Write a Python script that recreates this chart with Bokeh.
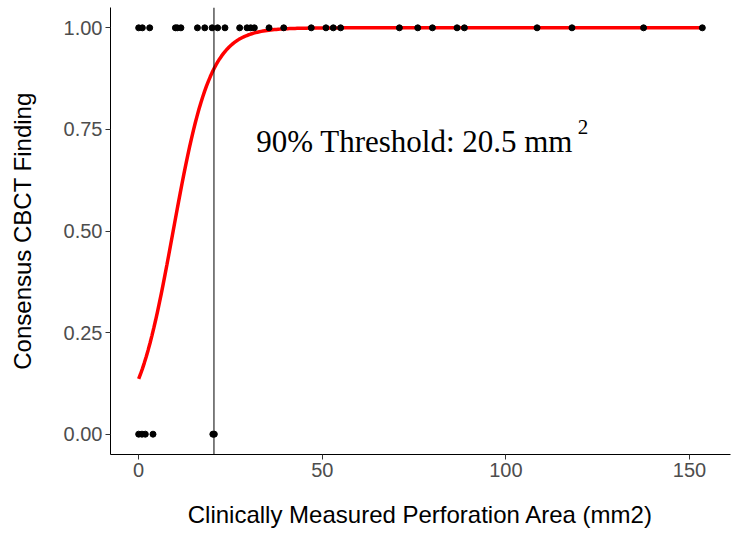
import numpy as np
from bokeh.plotting import figure
from bokeh.models import Range1d, FixedTicker, Span, Label
from bokeh.embed import file_html
from bokeh.resources import INLINE

# ---- data ----
area_pos = [0, 1, 3, 10, 10.5, 11.5, 16, 18, 20, 21.5, 23.5, 27.5, 29.5, 30.5, 31.5,
            35.5, 39.5, 47, 51, 53, 55, 71, 76, 80, 86.7, 88.7, 108.5, 118, 137.5, 153.5]
finding_pos = [1] * len(area_pos)
area_neg = [0, 0.9, 1.8, 3.9, 20.2, 20.6]
finding_neg = [0] * len(area_neg)

# fitted logistic regression coefficients (estimated from the red curve)
b0 = -1.85
b1 = 0.197
threshold = 20.5

x_ticks = [0, 50, 100, 150]
y_ticks = [0, 0.25, 0.5, 0.75, 1.0]

all_x = area_pos + area_neg
xmin, xmax = min(all_x), max(all_x)
pad = 0.05 * (xmax - xmin)

p = figure(width=739, height=533, output_backend="svg", toolbar_location=None,
           x_range=Range1d(xmin - pad, xmax + pad), y_range=Range1d(-0.05, 1.05),
           min_border_left=110, min_border_right=9, min_border_top=7, min_border_bottom=79)
p.outline_line_color = None
p.xgrid.grid_line_color = None
p.ygrid.grid_line_color = None
p.background_fill_color = "white"

# fitted curve
xs = np.linspace(xmin, xmax, 300)
ys = 1.0 / (1.0 + np.exp(-(b0 + b1 * xs)))
p.line(xs, ys, line_color="#FF0000", line_width=3.5)

# threshold line
p.add_layout(Span(location=threshold, dimension="height", line_color="black", line_width=1))

# points
p.scatter(area_pos, finding_pos, size=6, color="black")
p.scatter(area_neg, finding_neg, size=6, color="black")

# annotation
p.add_layout(Label(x=32.0, y=0.72, text="90% Threshold: 20.5 mm", text_font="Liberation Serif",
                   text_font_size="31px", text_color="black", text_baseline="alphabetic",
                   text_align="left"))
p.add_layout(Label(x=119.6, y=0.757, text="2", text_font="Liberation Serif",
                   text_font_size="21px", text_color="black", text_baseline="alphabetic",
                   text_align="left"))

for ax in (p.xaxis[0], p.yaxis[0]):
    ax.axis_line_color = "black"
    ax.axis_line_width = 1
    ax.major_tick_line_color = "#333333"
    ax.major_tick_out = 5
    ax.major_tick_in = 0
    ax.minor_tick_line_color = None
    ax.major_label_text_font = "Liberation Sans"
    ax.major_label_text_font_size = "20px"
    ax.major_label_text_color = "#4D4D4D"
    ax.major_label_standoff = 3
    ax.axis_label_text_font = "Liberation Sans"
    ax.axis_label_text_font_size = "24px"
    ax.axis_label_text_font_style = "normal"
    ax.axis_label_text_color = "black"

p.xaxis.ticker = FixedTicker(ticks=x_ticks)
p.yaxis.ticker = FixedTicker(ticks=y_ticks)
p.yaxis.major_label_overrides = {t: f"{t:.2f}" for t in y_ticks}
p.xaxis.axis_label = "Clinically Measured Perforation Area (mm2)"
p.yaxis.axis_label = "Consensus CBCT Finding"
p.xaxis.axis_label_standoff = 21
p.yaxis.axis_label_standoff = 25

open("out.html", "w").write(file_html(p, INLINE))
